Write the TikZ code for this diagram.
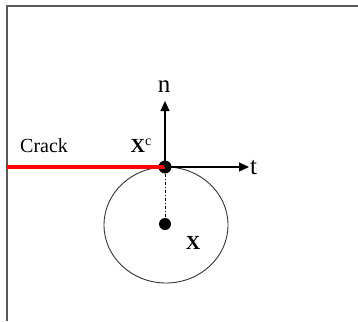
\documentclass[tikz,border=0pt]{standalone}
\usepackage{fontspec}
\setmainfont{Liberation Serif}
\usetikzlibrary{arrows.meta}
\begin{document}
\begin{tikzpicture}[x=1pt,y=-1pt,
  frame/.style={draw=black!65,line width=2pt},
  axis/.style={draw=black,line width=1.1pt,-{Triangle[length=10pt,width=9pt]}},
  crackline/.style={draw=red,line width=3.5pt},
  blob/.style={circle,fill=black,inner sep=0pt,minimum size=13pt},
  lbl/.style={font=\fontsize{20}{20}\selectfont,inner sep=0pt},
  axlbl/.style={font=\fontsize{25}{25}\selectfont,inner sep=0pt}]
\useasboundingbox (0,0) rectangle (358,321);
\draw[frame] (6.5,321) -- (6.5,6) -- (358,6);
\coordinate (left) at (6.5,167);
\node[blob] (tip) at (165,167) {};
\node[blob,minimum size=12pt] (ctr) at (165,224) {};
\coordinate (ntop) at (165,101);
\coordinate (tend) at (249,167);
\draw[black!80,line width=0.9pt] (166,225) ellipse [x radius=62,y radius=58];
\draw[crackline] (left) -- (tip.center);
\draw[axis] (tip.center) -- (ntop);
\draw[axis] (tip.center) -- (tend);
\draw[black,line width=0.8pt,dash pattern=on 3pt off 2pt on 1pt off 2pt] (tip) -- (ctr);
\node[axlbl,anchor=base west] (tl) at (250,174) {t};
\node[axlbl,anchor=base] (nl) at (164,92) {n};
\node[lbl,anchor=base west] (crk) at (20,152) {Crack};
\node[lbl,anchor=base] (xc) at (141,152) {\textbf{X}\raisebox{0.35em}{\fontsize{14}{14}\selectfont c}};
\node[lbl,anchor=base] (xl) at (193,249) {\textbf{X}};
\end{tikzpicture}
\end{document}
